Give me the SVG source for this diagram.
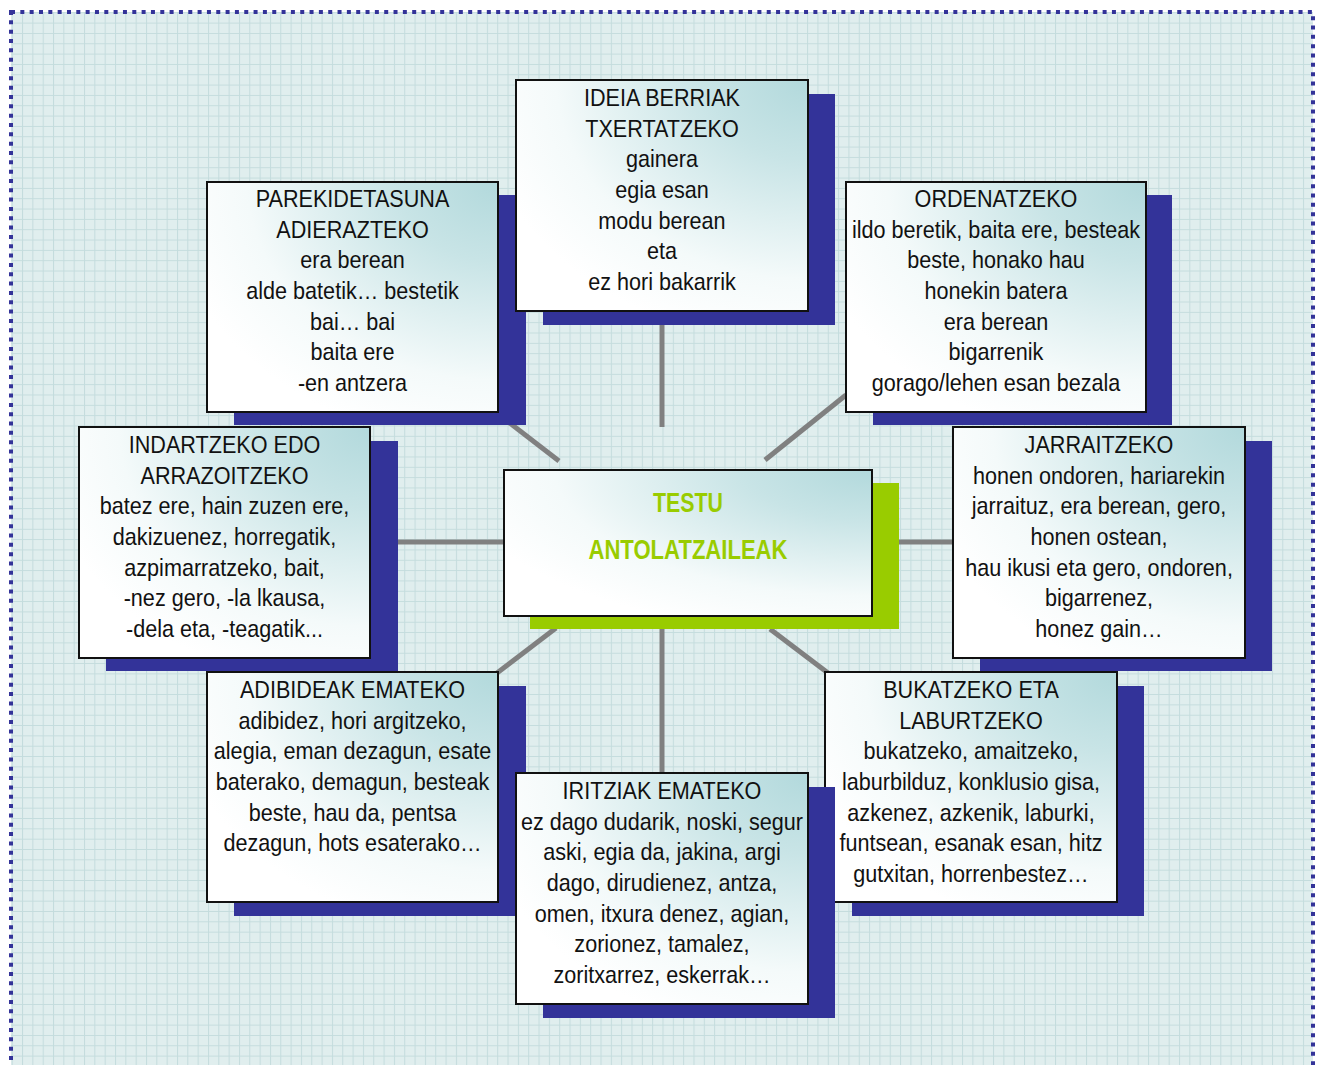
<svg xmlns="http://www.w3.org/2000/svg" width="1321" height="1065" viewBox="0 0 1321 1065">
<defs>
<pattern id="grid" x="11.7" y="12.3" width="10.33" height="10.33" patternUnits="userSpaceOnUse">
<rect width="10.33" height="10.33" fill="#e0eeee"/>
<path d="M0 0.5H10.33M0.5 0V10.33" stroke="#c4dcdd" stroke-width="1" fill="none"/>
</pattern>
<radialGradient id="bx" cx="1" cy="0" r="1.15">
<stop offset="0" stop-color="#b2d9dc"/>
<stop offset="0.3" stop-color="#c8e4e6"/>
<stop offset="0.75" stop-color="#f4fafa"/>
<stop offset="1" stop-color="#ffffff"/>
</radialGradient>
<style>
.sh{fill:#333399}
.bx{fill:url(#bx);stroke:#111;stroke-width:2}
.t{font-family:"Liberation Sans",Arial,sans-serif;font-size:24px;fill:#111;text-anchor:middle}
.c{font-family:"Liberation Sans",Arial,sans-serif;font-size:27px;font-weight:bold;fill:#99cc00;text-anchor:middle}
.ln{stroke:#808080;stroke-width:5;fill:none}
</style>
</defs>
<rect x="0" y="0" width="1321" height="1065" fill="#ffffff"/>
<rect x="11" y="12" width="1302" height="1060" fill="url(#grid)"/>
<rect x="11" y="12" width="1302" height="1060" fill="none" stroke="#333399" stroke-width="4" stroke-dasharray="4 5.33"/>

<g id="connectors">
<line class="ln" x1="662" y1="320" x2="662" y2="427"/>
<line class="ln" x1="498" y1="414" x2="559" y2="461"/>
<line class="ln" x1="846" y1="395" x2="765" y2="460"/>
<line class="ln" x1="390" y1="542" x2="510" y2="542"/>
<line class="ln" x1="890" y1="542" x2="955" y2="542"/>
<line class="ln" x1="556" y1="628" x2="497" y2="673"/>
<line class="ln" x1="770" y1="629" x2="828" y2="673"/>
<line class="ln" x1="662" y1="620" x2="662" y2="775"/>
</g>

<g id="parekidetasuna">
<rect class="sh" x="234" y="195" width="292" height="230"/>
<rect class="bx" x="207" y="182" width="291" height="230"/>
<g transform="translate(352.5 0) scale(0.9 1)"><text class="t" y="207"><tspan x="0">PAREKIDETASUNA</tspan><tspan x="0" dy="30.7">ADIERAZTEKO</tspan><tspan x="0" dy="30.7">era berean</tspan><tspan x="0" dy="30.7">alde batetik… bestetik</tspan><tspan x="0" dy="30.7">bai… bai</tspan><tspan x="0" dy="30.7">baita ere</tspan><tspan x="0" dy="30.7">-en antzera</tspan></text></g>
</g>

<g id="indartzeko">
<rect class="sh" x="106" y="441" width="292" height="230"/>
<rect class="bx" x="79" y="427" width="291" height="231"/>
<g transform="translate(224.5 0) scale(0.9 1)"><text class="t" y="453"><tspan x="0">INDARTZEKO EDO</tspan><tspan x="0" dy="30.7">ARRAZOITZEKO</tspan><tspan x="0" dy="30.7">batez ere, hain zuzen ere,</tspan><tspan x="0" dy="30.7">dakizuenez, horregatik,</tspan><tspan x="0" dy="30.7">azpimarratzeko, bait,</tspan><tspan x="0" dy="30.7">-nez gero, -la lkausa,</tspan><tspan x="0" dy="30.7">-dela eta, -teagatik...</tspan></text></g>
</g>

<g id="adibideak">
<rect class="sh" x="234" y="686" width="292" height="230"/>
<rect class="bx" x="207" y="672" width="291" height="230"/>
<g transform="translate(352.5 0) scale(0.9 1)"><text class="t" y="698"><tspan x="0">ADIBIDEAK EMATEKO</tspan><tspan x="0" dy="30.7">adibidez, hori argitzeko,</tspan><tspan x="0" dy="30.7">alegia, eman dezagun, esate</tspan><tspan x="0" dy="30.7">baterako, demagun, besteak</tspan><tspan x="0" dy="30.7">beste, hau da, pentsa</tspan><tspan x="0" dy="30.7">dezagun, hots esaterako…</tspan></text></g>
</g>

<g id="ordenatzeko">
<rect class="sh" x="873" y="195" width="299" height="230"/>
<rect class="bx" x="846" y="182" width="300" height="230"/>
<g transform="translate(996 0) scale(0.9 1)"><text class="t" y="207"><tspan x="0">ORDENATZEKO</tspan><tspan x="0" dy="30.7">ildo beretik, baita ere, besteak</tspan><tspan x="0" dy="30.7">beste, honako hau</tspan><tspan x="0" dy="30.7">honekin batera</tspan><tspan x="0" dy="30.7">era berean</tspan><tspan x="0" dy="30.7">bigarrenik</tspan><tspan x="0" dy="30.7">gorago/lehen esan bezala</tspan></text></g>
</g>

<g id="jarraitzeko">
<rect class="sh" x="980" y="441" width="292" height="230"/>
<rect class="bx" x="953" y="427" width="292" height="231"/>
<g transform="translate(1099 0) scale(0.9 1)"><text class="t" y="453"><tspan x="0">JARRAITZEKO</tspan><tspan x="0" dy="30.7">honen ondoren, hariarekin</tspan><tspan x="0" dy="30.7">jarraituz, era berean, gero,</tspan><tspan x="0" dy="30.7">honen ostean,</tspan><tspan x="0" dy="30.7">hau ikusi eta gero, ondoren,</tspan><tspan x="0" dy="30.7">bigarrenez,</tspan><tspan x="0" dy="30.7">honez gain…</tspan></text></g>
</g>

<g id="bukatzeko">
<rect class="sh" x="852" y="686" width="292" height="230"/>
<rect class="bx" x="825" y="672" width="292" height="230"/>
<g transform="translate(971 0) scale(0.9 1)"><text class="t" y="698"><tspan x="0">BUKATZEKO ETA</tspan><tspan x="0" dy="30.7">LABURTZEKO</tspan><tspan x="0" dy="30.7">bukatzeko, amaitzeko,</tspan><tspan x="0" dy="30.7">laburbilduz, konklusio gisa,</tspan><tspan x="0" dy="30.7">azkenez, azkenik, laburki,</tspan><tspan x="0" dy="30.7">funtsean, esanak esan, hitz</tspan><tspan x="0" dy="30.7">gutxitan, horrenbestez…</tspan></text></g>
</g>

<g id="ideia">
<rect class="sh" x="543" y="94" width="292" height="231"/>
<rect class="bx" x="516" y="80" width="292" height="231"/>
<g transform="translate(662 0) scale(0.9 1)"><text class="t" y="106"><tspan x="0">IDEIA BERRIAK</tspan><tspan x="0" dy="30.7">TXERTATZEKO</tspan><tspan x="0" dy="30.7">gainera</tspan><tspan x="0" dy="30.7">egia esan</tspan><tspan x="0" dy="30.7">modu berean</tspan><tspan x="0" dy="30.7">eta</tspan><tspan x="0" dy="30.7">ez hori bakarrik</tspan></text></g>
</g>

<g id="iritziak">
<rect class="sh" x="543" y="787" width="292" height="231"/>
<rect class="bx" x="516" y="773" width="292" height="231"/>
<g transform="translate(662 0) scale(0.9 1)"><text class="t" y="799"><tspan x="0">IRITZIAK EMATEKO</tspan><tspan x="0" dy="30.7">ez dago dudarik, noski, segur</tspan><tspan x="0" dy="30.7">aski, egia da, jakina, argi</tspan><tspan x="0" dy="30.7">dago, dirudienez, antza,</tspan><tspan x="0" dy="30.7">omen, itxura denez, agian,</tspan><tspan x="0" dy="30.7">zorionez, tamalez,</tspan><tspan x="0" dy="30.7">zoritxarrez, eskerrak…</tspan></text></g>
</g>

<g id="center">
<rect x="530" y="483" width="369" height="146" fill="#99cc00"/>
<rect class="bx" x="504" y="470" width="368" height="146"/>
<text class="c" x="688" y="512" textLength="70" lengthAdjust="spacingAndGlyphs">TESTU</text>
<text class="c" x="688" y="559" textLength="199" lengthAdjust="spacingAndGlyphs">ANTOLATZAILEAK</text>
</g>
</svg>
